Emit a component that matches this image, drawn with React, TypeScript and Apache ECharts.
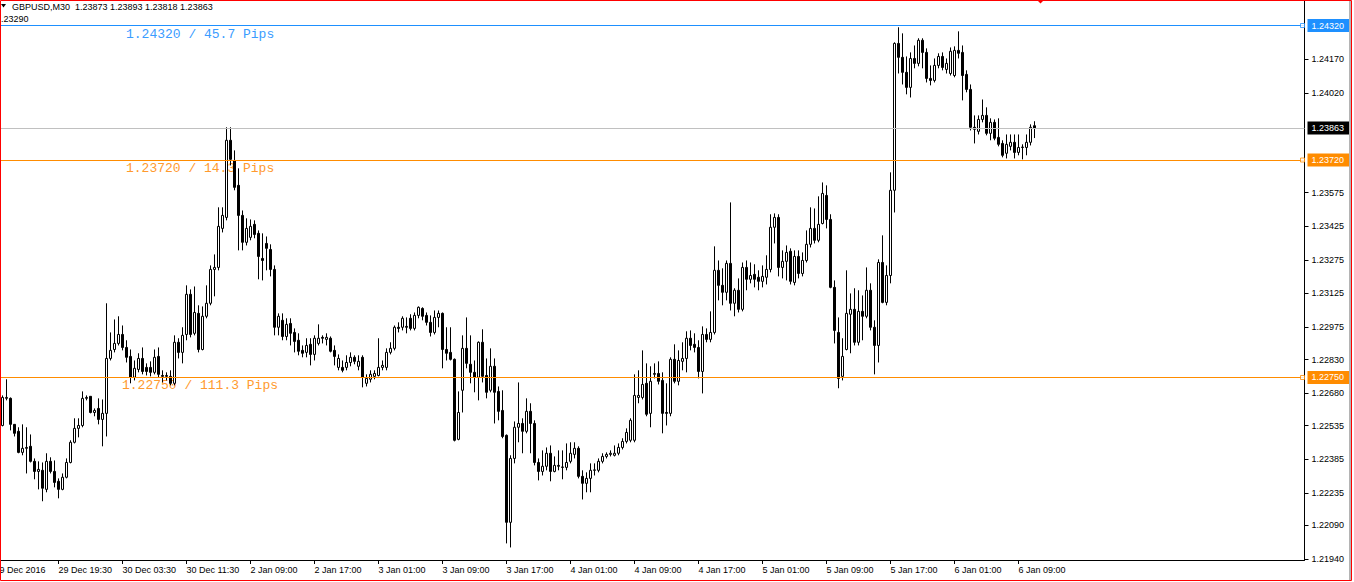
import React, { useEffect, useRef } from "react";
import * as echarts from "echarts";

// ---------- data ----------
const symbolTitle = "GBPUSD,M30";
const lastBarText = ["1.23873", "1.23893", "1.23818", "1.23863"];
const sideValueText = "1.23290";

const opens = [
  1.22536,1.22657,1.22657,1.22541,1.22510,1.22416,1.22434,1.22443,1.22376,1.22331,
  1.22336,1.22251,1.22376,1.22331,1.22287,1.22251,1.22305,1.22371,1.22461,1.22523,
  1.22536,1.22657,1.22666,1.22594,1.22612,1.22563,1.22590,1.22835,1.22875,1.22902,
  1.22942,1.22884,1.22844,1.22751,1.22786,1.22835,1.22795,1.22795,1.22773,1.22844,
  1.22759,1.22755,1.22755,1.22724,1.22907,1.22862,1.22942,1.23121,1.22947,1.23036,
  1.22875,1.23023,1.23081,1.23232,1.23241,1.23415,1.23464,1.23808,1.23718,1.23607,
  1.23473,1.23353,1.23375,1.23433,1.23393,1.23281,1.23348,1.23321,1.23232,1.22974,
  1.23005,1.22933,1.22991,1.22951,1.22916,1.22871,1.22862,1.22898,1.22853,1.22902,
  1.22929,1.22920,1.22925,1.22871,1.22795,1.22795,1.22795,1.22817,1.22840,1.22800,
  1.22840,1.22724,1.22742,1.22755,1.22759,1.22795,1.22795,1.22862,1.22880,1.22974,
  1.22974,1.22978,1.23014,1.22969,1.23027,1.23058,1.23027,1.22996,1.22951,1.23018,
  1.23036,1.22875,1.22862,1.22831,1.22474,1.22693,1.22880,1.22809,1.22773,1.22751,
  1.22907,1.22759,1.22693,1.22800,1.22688,1.22603,1.22492,1.22104,1.22389,1.22528,
  1.22545,1.22510,1.22599,1.22545,1.22371,1.22331,1.22354,1.22412,1.22331,1.22358,
  1.22349,1.22349,1.22376,1.22407,1.22434,1.22309,1.22278,1.22300,1.22336,1.22336,
  1.22376,1.22398,1.22407,1.22403,1.22412,1.22438,1.22465,1.22470,1.22470,1.22661,
  1.22661,1.22724,1.22590,1.22764,1.22768,1.22737,1.22594,1.22590,1.22831,1.22733,
  1.22822,1.22835,1.22925,1.22898,1.22884,1.22777,1.22942,1.22920,1.22951,1.23228,
  1.23161,1.23130,1.23259,1.23081,1.23139,1.23054,1.23241,1.23188,1.23210,1.23197,
  1.23179,1.23197,1.23232,1.23420,1.23464,1.23241,1.23268,1.23313,1.23174,1.23290,
  1.23214,1.23272,1.23344,1.23415,1.23362,1.23437,1.23562,1.23455,1.23152,1.22951,
  1.22755,1.22875,1.23032,1.23054,1.22907,1.23045,1.23023,1.23139,1.22974,1.22893,
  1.23263,1.23085,1.23205,1.23585,1.24240,1.24178,1.24111,1.24044,1.24173,1.24151,
  1.24254,1.24200,1.24084,1.24075,1.24142,1.24182,1.24124,1.24106,1.24097,1.24209,
  1.24200,1.24102,1.24035,1.23866,1.23848,1.23901,1.23919,1.23839,1.23888,1.23821,
  1.23794,1.23750,1.23781,1.23799,1.23754,1.23776,1.23776,1.23799,1.23873,
];

const closes = [
  1.22661,1.22661,1.22541,1.22501,1.22416,1.22434,1.22438,1.22376,1.22331,1.22340,
  1.22256,1.22376,1.22331,1.22282,1.22251,1.22305,1.22371,1.22461,1.22523,1.22536,
  1.22657,1.22661,1.22594,1.22603,1.22563,1.22590,1.22835,1.22871,1.22902,1.22942,
  1.22884,1.22840,1.22751,1.22791,1.22835,1.22777,1.22777,1.22773,1.22840,1.22764,
  1.22755,1.22759,1.22724,1.22907,1.22862,1.22938,1.23121,1.22942,1.23040,1.22875,
  1.23023,1.23081,1.23232,1.23241,1.23424,1.23473,1.23808,1.23723,1.23598,1.23473,
  1.23353,1.23415,1.23424,1.23388,1.23290,1.23272,1.23326,1.23232,1.22974,1.23023,
  1.22933,1.22987,1.22947,1.22911,1.22867,1.22858,1.22893,1.22853,1.22925,1.22925,
  1.22925,1.22929,1.22867,1.22844,1.22835,1.22782,1.22817,1.22840,1.22822,1.22822,
  1.22751,1.22746,1.22764,1.22768,1.22795,1.22804,1.22862,1.22880,1.22974,1.22969,
  1.23014,1.22974,1.22969,1.23027,1.23063,1.23023,1.22996,1.22951,1.23018,1.23036,
  1.22875,1.22858,1.22831,1.22470,1.22594,1.22880,1.22813,1.22773,1.22751,1.22907,
  1.22755,1.22684,1.22800,1.22684,1.22599,1.22487,1.22104,1.22389,1.22528,1.22545,
  1.22510,1.22599,1.22545,1.22371,1.22331,1.22354,1.22412,1.22331,1.22358,1.22354,
  1.22351,1.22371,1.22412,1.22434,1.22309,1.22278,1.22300,1.22336,1.22338,1.22376,
  1.22398,1.22407,1.22412,1.22412,1.22438,1.22465,1.22505,1.22559,1.22670,1.22670,
  1.22719,1.22586,1.22733,1.22768,1.22733,1.22590,1.22590,1.22831,1.22733,1.22826,
  1.22835,1.22925,1.22893,1.22884,1.22777,1.22942,1.22920,1.22951,1.23228,1.23161,
  1.23130,1.23259,1.23081,1.23139,1.23054,1.23241,1.23188,1.23205,1.23188,1.23179,
  1.23201,1.23232,1.23420,1.23464,1.23241,1.23268,1.23308,1.23179,1.23290,1.23214,
  1.23272,1.23344,1.23415,1.23362,1.23433,1.23571,1.23455,1.23152,1.22960,1.22746,
  1.22844,1.23036,1.23054,1.22907,1.23045,1.23023,1.23139,1.22974,1.22893,1.23263,
  1.23085,1.23205,1.23585,1.24240,1.24178,1.24111,1.24044,1.24173,1.24151,1.24254,
  1.24200,1.24084,1.24075,1.24142,1.24182,1.24133,1.24151,1.24205,1.24209,1.24196,
  1.24097,1.24035,1.23866,1.23857,1.23901,1.23919,1.23839,1.23888,1.23817,1.23790,
  1.23741,1.23790,1.23799,1.23754,1.23776,1.23778,1.23799,1.23866,1.23863,
];

const lows = [
  1.22532,1.22648,1.22514,1.22487,1.22412,1.22403,1.22322,1.22371,1.22296,1.22251,
  1.22198,1.22238,1.22322,1.22260,1.22211,1.22247,1.22300,1.22367,1.22456,1.22483,
  1.22528,1.22648,1.22590,1.22577,1.22541,1.22443,1.22487,1.22826,1.22862,1.22893,
  1.22871,1.22817,1.22724,1.22737,1.22773,1.22764,1.22759,1.22755,1.22764,1.22751,
  1.22728,1.22737,1.22715,1.22715,1.22835,1.22813,1.22916,1.22929,1.22938,1.22862,
  1.22871,1.23014,1.23072,1.23112,1.23228,1.23397,1.23451,1.23696,1.23585,1.23317,
  1.23317,1.23339,1.23362,1.23371,1.23188,1.23183,1.23228,1.23201,1.22938,1.22938,
  1.22916,1.22916,1.22893,1.22862,1.22849,1.22840,1.22840,1.22804,1.22826,1.22893,
  1.22902,1.22893,1.22862,1.22804,1.22782,1.22773,1.22782,1.22800,1.22809,1.22782,
  1.22706,1.22710,1.22728,1.22742,1.22755,1.22782,1.22782,1.22853,1.22871,1.22951,
  1.22960,1.22947,1.22960,1.22960,1.23014,1.23005,1.22982,1.22933,1.22942,1.22974,
  1.22791,1.22826,1.22826,1.22465,1.22470,1.22594,1.22791,1.22724,1.22684,1.22648,
  1.22728,1.22657,1.22684,1.22545,1.22559,1.22479,1.22010,1.21992,1.22367,1.22461,
  1.22412,1.22501,1.22412,1.22358,1.22291,1.22313,1.22336,1.22287,1.22327,1.22336,
  1.22296,1.22336,1.22367,1.22389,1.22300,1.22206,1.22238,1.22238,1.22313,1.22327,
  1.22367,1.22389,1.22398,1.22398,1.22403,1.22429,1.22456,1.22461,1.22461,1.22635,
  1.22652,1.22577,1.22528,1.22746,1.22719,1.22501,1.22536,1.22577,1.22724,1.22715,
  1.22782,1.22773,1.22871,1.22862,1.22746,1.22679,1.22907,1.22907,1.22942,1.23094,
  1.23072,1.23094,1.23049,1.23023,1.23040,1.23045,1.23139,1.23170,1.23152,1.23139,
  1.23152,1.23165,1.23219,1.23348,1.23201,1.23192,1.23183,1.23165,1.23161,1.23192,
  1.23201,1.23263,1.23330,1.23348,1.23353,1.23433,1.23415,1.23148,1.22902,1.22702,
  1.22737,1.22871,1.22858,1.22893,1.22893,1.22916,1.23014,1.22960,1.22764,1.22817,
  1.23081,1.23072,1.23170,1.23486,1.24106,1.24057,1.24013,1.23999,1.24129,1.24138,
  1.24129,1.24066,1.24053,1.24066,1.24129,1.24120,1.24106,1.24097,1.24089,1.24173,
  1.23986,1.24022,1.23852,1.23794,1.23834,1.23888,1.23830,1.23808,1.23808,1.23781,
  1.23732,1.23727,1.23763,1.23727,1.23741,1.23723,1.23741,1.23785,1.23818,
];

const highs = [
  1.22670,1.22742,1.22661,1.22541,1.22528,1.22541,1.22528,1.22496,1.22389,1.22376,
  1.22371,1.22412,1.22394,1.22380,1.22300,1.22322,1.22389,1.22470,1.22568,1.22568,
  1.22688,1.22670,1.22666,1.22612,1.22657,1.22652,1.23081,1.22951,1.23009,1.23023,
  1.22982,1.22916,1.22875,1.22826,1.22858,1.22884,1.22813,1.22822,1.22875,1.22884,
  1.22782,1.22773,1.22782,1.22938,1.22925,1.22974,1.23161,1.23143,1.23156,1.23072,
  1.23067,1.23161,1.23250,1.23299,1.23509,1.23509,1.23866,1.23866,1.23763,1.23683,
  1.23495,1.23460,1.23455,1.23451,1.23406,1.23393,1.23379,1.23344,1.23250,1.23036,
  1.23036,1.23014,1.23014,1.22969,1.22947,1.22893,1.22925,1.22925,1.22938,1.22987,
  1.22938,1.22947,1.22933,1.22893,1.22853,1.22826,1.22849,1.22862,1.22849,1.22849,
  1.22849,1.22764,1.22782,1.22782,1.22925,1.22826,1.22880,1.22907,1.22982,1.22996,
  1.23023,1.23018,1.23032,1.23040,1.23067,1.23063,1.23040,1.23027,1.23049,1.23049,
  1.23040,1.22974,1.22974,1.22835,1.22688,1.22938,1.23018,1.22938,1.22826,1.22911,
  1.22965,1.22835,1.22880,1.22835,1.22710,1.22693,1.22496,1.22403,1.22554,1.22728,
  1.22568,1.22657,1.22635,1.22559,1.22389,1.22425,1.22438,1.22447,1.22398,1.22425,
  1.22425,1.22456,1.22461,1.22461,1.22443,1.22336,1.22327,1.22367,1.22367,1.22389,
  1.22412,1.22416,1.22425,1.22447,1.22456,1.22479,1.22523,1.22568,1.22764,1.22782,
  1.22871,1.22813,1.22800,1.22813,1.22822,1.22773,1.22724,1.22840,1.22898,1.22871,
  1.22907,1.22956,1.22960,1.22947,1.22916,1.22978,1.22969,1.23045,1.23335,1.23272,
  1.23237,1.23272,1.23531,1.23148,1.23192,1.23263,1.23272,1.23263,1.23255,1.23228,
  1.23250,1.23295,1.23478,1.23482,1.23478,1.23317,1.23339,1.23326,1.23317,1.23317,
  1.23308,1.23406,1.23509,1.23504,1.23558,1.23620,1.23607,1.23478,1.23183,1.23018,
  1.22925,1.23228,1.23125,1.23148,1.23139,1.23116,1.23241,1.23170,1.23005,1.23277,
  1.23384,1.23250,1.23665,1.24245,1.24312,1.24285,1.24182,1.24200,1.24231,1.24263,
  1.24263,1.24218,1.24142,1.24173,1.24196,1.24200,1.24173,1.24222,1.24227,1.24294,
  1.24231,1.24120,1.24057,1.23919,1.23919,1.23990,1.23955,1.23906,1.23901,1.23906,
  1.23808,1.23834,1.23834,1.23834,1.23834,1.23790,1.23834,1.23879,1.23893,
];

const timeLabels = [
  "29 Dec 2016", "29 Dec 19:30", "30 Dec 03:30", "30 Dec 11:30", "2 Jan 09:00",
  "2 Jan 17:00", "3 Jan 01:00", "3 Jan 09:00", "3 Jan 17:00", "4 Jan 01:00",
  "4 Jan 09:00", "4 Jan 17:00", "5 Jan 01:00", "5 Jan 09:00", "5 Jan 17:00",
  "6 Jan 01:00", "6 Jan 09:00",
];

const priceTickValues = [
  1.2417, 1.2402, 1.23575, 1.23425, 1.23275, 1.23125, 1.22975, 1.2283,
  1.2268, 1.22535, 1.22385, 1.22235, 1.2209, 1.2194,
];

const currentPrice = 1.23863;
const levelValues = [1.2432, 1.2372, 1.2275];
const levelPips = ["45.7", "14.3", "111.3"];

// ---------- layout constants ----------
const W = 1354;
const H = 582;
const SLOT_COUNT = 328; // visible bar slots in the chart window
const LEAD_SLOTS = 2; // slots before first drawn bar
const BARS_PER_LABEL = 16;
const Y_MAX = 1.2442928;
const Y_MIN = 1.2193597;
const levelColors = ["#1E90FF", "#FF8C00", "#FF8C00"];
const levelTextColors = ["#3A9CFF", "#FF9A2E", "#FF9A2E"];
const levelTextPos = [
  [126, 34],
  [126, 168],
  [122, 385],
];
const FONT = "'Liberation Sans', Arial, sans-serif";

export default function App() {
  const ref = useRef<HTMLDivElement>(null);

  useEffect(() => {
    if (!ref.current) return;
    const chart = echarts.init(ref.current, null, { renderer: "svg" });

    const slots = Array.from({ length: SLOT_COUNT }, (_, k) => String(k));
    const candleData = slots.map((_, k) => {
      const i = k - LEAD_SLOTS;
      if (i < 0 || i >= opens.length) return ["-", "-", "-", "-"];
      return [opens[i], closes[i], lows[i], highs[i]];
    });
    const isLabelSlot = (idx: number) =>
      idx % BARS_PER_LABEL === 0 && idx / BARS_PER_LABEL < timeLabels.length;

    const lineLabel = (bg: string) => ({
      show: true,
      position: "end",
      distance: 3,
      formatter: (p: any) => Number(p.value).toFixed(5),
      color: "#fff",
      backgroundColor: bg,
      padding: [2, 5, 1, 4],
      fontSize: 9,
      lineHeight: 10,
      fontFamily: FONT,
    });

    const option: any = {
      animation: false,
      backgroundColor: "#fff",
      textStyle: { fontFamily: FONT },
      grid: {
        left: -7.5,
        top: 1,
        width: 1312,
        height: 559,
        containLabel: false,
        outerBoundsMode: "none",
      },
      xAxis: {
        type: "category",
        data: slots,
        boundaryGap: true,
        axisLine: { show: true, lineStyle: { color: "#000", width: 1 } },
        axisTick: {
          show: true,
          alignWithLabel: true,
          length: 4,
          interval: (idx: number) => isLabelSlot(idx),
          lineStyle: { color: "#000" },
        },
        axisLabel: {
          show: true,
          interval: (idx: number) => isLabelSlot(idx),
          formatter: (_v: string, idx: number) =>
            timeLabels[Math.round(idx / BARS_PER_LABEL)] ?? "",
          align: "left",
          margin: 5,
          color: "#000",
          fontSize: 9,
          fontFamily: FONT,
        },
        splitLine: { show: false },
      },
      yAxis: {
        type: "value",
        position: "right",
        min: Y_MIN,
        max: Y_MAX,
        axisLine: { show: true, lineStyle: { color: "#000", width: 1 } },
        axisTick: {
          show: true,
          length: 4,
          customValues: priceTickValues,
          lineStyle: { color: "#000" },
        },
        axisLabel: {
          show: true,
          customValues: priceTickValues,
          formatter: (v: number) => v.toFixed(5),
          margin: 7,
          color: "#000",
          fontSize: 9,
          fontFamily: FONT,
        },
        splitLine: { show: false },
      },
      series: [
        {
          type: "candlestick",
          data: candleData,
          barWidth: 2,
          itemStyle: {
            color: "#fff",
            color0: "#000",
            borderColor: "#000",
            borderColor0: "#000",
            borderWidth: 1,
          },
          markLine: {
            silent: true,
            animation: false,
            precision: 5,
            symbol: ["none", "none"],
            data: [
              {
                yAxis: currentPrice,
                lineStyle: { color: "#C0C0C0", width: 1, type: "solid" },
                label: lineLabel("#000"),
              },
              ...levelValues.map((v, k) => ({
                yAxis: v,
                lineStyle: { color: levelColors[k], width: 1, type: "solid" },
                label: lineLabel(levelColors[k]),
              })),
            ],
          },
        },
        {
          type: "scatter",
          symbol: "rect",
          symbolSize: 4,
          silent: true,
          z: 5,
          data: levelValues.map((v, k) => ({
            value: [SLOT_COUNT - 1, v],
            itemStyle: { color: "#fff", borderColor: levelColors[k], borderWidth: 1 },
          })),
        },
      ],
      graphic: [
        ...levelValues.map((v, k) => ({
          type: "text",
          x: levelTextPos[k][0],
          y: levelTextPos[k][1],
          z: 0,
          silent: true,
          style: {
            text: `${v.toFixed(5)} / ${levelPips[k]} Pips`,
            fill: levelTextColors[k],
            fontSize: 13,
            fontFamily: "'Liberation Mono', 'Courier New', monospace",
            verticalAlign: "middle",
          },
        })),
        {
          type: "polygon",
          silent: true,
          z: 100,
          shape: { points: [[1, 4], [6, 4], [3.5, 7.5]] },
          style: { fill: "#000" },
        },
        {
          type: "text",
          x: 12,
          y: 7,
          z: 100,
          silent: true,
          style: {
            text: `${symbolTitle}  ${lastBarText.join(" ")}`,
            fill: "#000",
            fontSize: 9,
            fontFamily: FONT,
            verticalAlign: "middle",
          },
        },
        {
          type: "text",
          x: -4,
          y: 19,
          z: 100,
          silent: true,
          style: {
            text: sideValueText,
            fill: "#000",
            fontSize: 9,
            fontFamily: FONT,
            verticalAlign: "middle",
          },
        },
        {
          type: "rect",
          silent: true,
          z: 100,
          shape: { x: 1349, y: 1, width: 2, height: 579 },
          style: { fill: "#B4B4B4" },
        },
        {
          type: "polygon",
          silent: true,
          z: 100,
          shape: { points: [[1037, 0], [1044, 0], [1040.5, 3.5]] },
          style: { fill: "#FF0000" },
        },
        {
          type: "rect",
          silent: true,
          z: 101,
          shape: { x: 0.5, y: 0.5, width: 1351, height: 580 },
          style: { fill: "none", stroke: "#FF0000", lineWidth: 1 },
        },
      ],
    };

    chart.setOption(option);
    return () => chart.dispose();
  }, []);

  return (
    <div
      ref={ref}
      style={{
        position: "fixed",
        left: 0,
        top: 0,
        width: W,
        height: H,
        background: "#fff",
      }}
    />
  );
}
